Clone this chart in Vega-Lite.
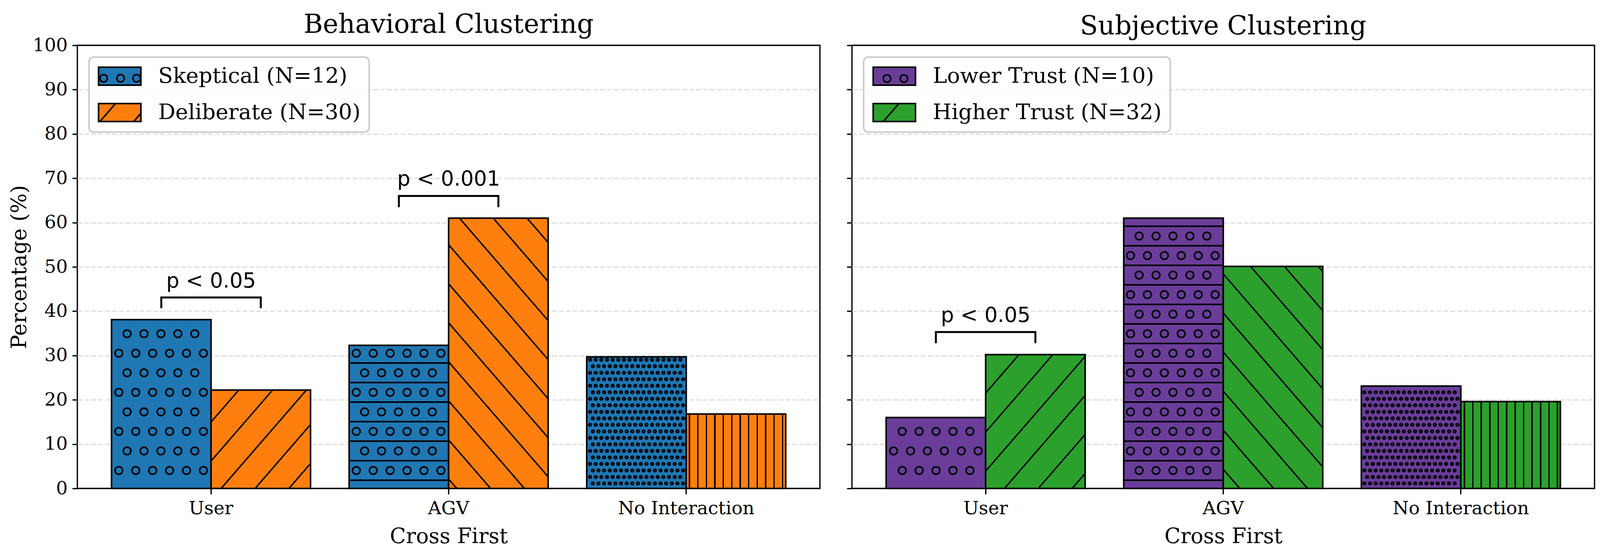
{
  "$schema": "https://vega.github.io/schema/vega-lite/v6.json",
  "background": "white",
  "padding": {"left": 21, "top": 28, "right": 10, "bottom": 20},
  "spacing": 63,
  "config": {
    "font": "DejaVu Serif",
    "view": {"stroke": "black", "strokeWidth": 3.3},
    "axis": {
      "labelFont": "DejaVu Serif", "labelFontSize": 47, "labelColor": "black", "labelLimit": 1000,
      "titleFont": "DejaVu Serif", "titleFontSize": 54, "titleFontWeight": "normal", "titleColor": "black",
      "tickColor": "black", "tickWidth": 3.3, "domain": false
    },
    "axisX": {"labelAngle": 0, "grid": false, "tickSize": 14.6, "labelPadding": 14, "titlePadding": 22},
    "axisY": {"grid": true, "gridDash": [12.3, 5.3], "gridColor": "#e0e0e0", "gridWidth": 3.3,
      "gridOpacity": {"condition": {"test": "datum.value === 0 || datum.value === 100", "value": 0}, "value": 1},
      "tickSize": 13, "labelPadding": 12, "titlePadding": 6},
    "title": {"font": "DejaVu Serif", "fontSize": 67, "fontWeight": "normal", "color": "black", "anchor": "middle", "frame": "group", "baseline": "alphabetic"},
    "legend": {
      "orient": "top-left", "offset": 30, "padding": 22,
      "labelFont": "DejaVu Serif", "labelFontSize": 55, "labelColor": "black", "labelLimit": 2000, "labelOffset": 42,
      "symbolType": "M-1,-0.4247H1V0.4247H-1Z", "symbolSize": 11729, "symbolStrokeColor": "black", "symbolStrokeWidth": 4,
      "clipHeight": 54, "rowPadding": 38,
      "fillColor": "rgba(255,255,255,0.8)", "strokeColor": "#cccccc", "strokeWidth": 4, "cornerRadius": 12
    }
  },
  "resolve": {"scale": {"x": "independent", "xOffset": "independent", "y": "independent", "fill": "independent"}, "legend": {"fill": "independent"}},
  "hconcat": [
    {
      "width": 1901,
      "height": 1134,
      "title": {"text": "Behavioral Clustering", "offset": -6},
      "data": {"values": [
        {"cat": "User", "grp": "Skeptical (N=12)", "pct": 38.1},
        {"cat": "User", "grp": "Deliberate (N=30)", "pct": 22.2},
        {"cat": "AGV", "grp": "Skeptical (N=12)", "pct": 32.3},
        {"cat": "AGV", "grp": "Deliberate (N=30)", "pct": 61.0},
        {"cat": "No Interaction", "grp": "Skeptical (N=12)", "pct": 29.7},
        {"cat": "No Interaction", "grp": "Deliberate (N=30)", "pct": 16.8}
      ]},
      "layer": [
        {
          "mark": {"type": "bar", "stroke": "black", "strokeWidth": 4, "strokeJoin": "miter"},
          "encoding": {
            "x": {"field": "cat", "type": "nominal", "sort": ["User", "AGV", "No Interaction"], "title": "Cross First",
              "scale": {"paddingInner": 0.1624, "paddingOuter": 0.1439}},
            "xOffset": {"field": "grp", "type": "nominal", "sort": ["Skeptical (N=12)", "Deliberate (N=30)"], "scale": {"paddingInner": 0, "paddingOuter": 0}},
            "y": {"field": "pct", "type": "quantitative", "title": "Percentage (%)",
              "scale": {"domain": [0, 100], "nice": false},
              "axis": {"values": [0, 10, 20, 30, 40, 50, 60, 70, 80, 90, 100]}},
            "fill": {
              "field": "grp", "type": "nominal",
              "scale": {"domain": ["Skeptical (N=12)", "Deliberate (N=30)"], "range": ["#1f77b4", "#ff7f0e"]},
              "legend": {"title": null, "encode": {"symbols": {"update": {
                "shape": [{"test": "datum.value === 'Skeptical (N=12)'", "value": "M-1,-0.4247H1V0.4247H-1ZM-0.5856,0.0979A0.1754,0.1754 0 1,1 -0.9364,0.0979A0.1754,0.1754 0 1,1 -0.5856,0.0979ZM0.2142,0.0979A0.1754,0.1754 0 1,1 -0.1366,0.0979A0.1754,0.1754 0 1,1 0.2142,0.0979ZM0.9754,0.0979A0.1754,0.1754 0 1,1 0.6246,0.0979A0.1754,0.1754 0 1,1 0.9754,0.0979Z"},
                          {"value": "M-1,-0.4247H1V0.4247H-1ZM-0.936,0.4247L-0.2,-0.4247M0.664,0.4247L1,0.0369"}],
                "stroke": {"value": "black"}, "strokeWidth": {"value": 4}}}}},
              "condition": [
                {"test": "datum.cat === 'User' && datum.grp === 'Deliberate (N=30)'", "value": {"gradient": "linear", "x1": 0, "y1": 0, "x2": 1.0706, "y2": 0.9176, "stops": [
                  {"offset": 0, "color": "#ff7f0e"},
                  {"offset": 0.1448, "color": "#ff7f0e"}, {"offset": 0.1448, "color": "#000"}, {"offset": 0.1552, "color": "#000"}, {"offset": 0.1552, "color": "#ff7f0e"},
                  {"offset": 0.3278, "color": "#ff7f0e"}, {"offset": 0.3278, "color": "#000"}, {"offset": 0.3382, "color": "#000"}, {"offset": 0.3382, "color": "#ff7f0e"},
                  {"offset": 0.5108, "color": "#ff7f0e"}, {"offset": 0.5108, "color": "#000"}, {"offset": 0.5212, "color": "#000"}, {"offset": 0.5212, "color": "#ff7f0e"},
                  {"offset": 0.6948, "color": "#ff7f0e"}, {"offset": 0.6948, "color": "#000"}, {"offset": 0.7052, "color": "#000"}, {"offset": 0.7052, "color": "#ff7f0e"},
                  {"offset": 0.8778, "color": "#ff7f0e"}, {"offset": 0.8778, "color": "#000"}, {"offset": 0.8882, "color": "#000"}, {"offset": 0.8882, "color": "#ff7f0e"},
                  {"offset": 1, "color": "#ff7f0e"}]}},
                {"test": "datum.cat === 'AGV' && datum.grp === 'Deliberate (N=30)'", "value": {"gradient": "linear", "x1": 0, "y1": 1, "x2": 0.5128, "y2": -0.2066, "stops": [
                  {"offset": 0, "color": "#ff7f0e"},
                  {"offset": 0.0214, "color": "#ff7f0e"}, {"offset": 0.0214, "color": "#000"}, {"offset": 0.0272, "color": "#000"}, {"offset": 0.0272, "color": "#ff7f0e"},
                  {"offset": 0.1229, "color": "#ff7f0e"}, {"offset": 0.1229, "color": "#000"}, {"offset": 0.1287, "color": "#000"}, {"offset": 0.1287, "color": "#ff7f0e"},
                  {"offset": 0.2243, "color": "#ff7f0e"}, {"offset": 0.2243, "color": "#000"}, {"offset": 0.2301, "color": "#000"}, {"offset": 0.2301, "color": "#ff7f0e"},
                  {"offset": 0.3257, "color": "#ff7f0e"}, {"offset": 0.3257, "color": "#000"}, {"offset": 0.3315, "color": "#000"}, {"offset": 0.3315, "color": "#ff7f0e"},
                  {"offset": 0.4271, "color": "#ff7f0e"}, {"offset": 0.4271, "color": "#000"}, {"offset": 0.4329, "color": "#000"}, {"offset": 0.4329, "color": "#ff7f0e"},
                  {"offset": 0.5285, "color": "#ff7f0e"}, {"offset": 0.5285, "color": "#000"}, {"offset": 0.5343, "color": "#000"}, {"offset": 0.5343, "color": "#ff7f0e"},
                  {"offset": 0.6300, "color": "#ff7f0e"}, {"offset": 0.6300, "color": "#000"}, {"offset": 0.6358, "color": "#000"}, {"offset": 0.6358, "color": "#ff7f0e"},
                  {"offset": 0.7314, "color": "#ff7f0e"}, {"offset": 0.7314, "color": "#000"}, {"offset": 0.7372, "color": "#000"}, {"offset": 0.7372, "color": "#ff7f0e"},
                  {"offset": 0.8328, "color": "#ff7f0e"}, {"offset": 0.8328, "color": "#000"}, {"offset": 0.8386, "color": "#000"}, {"offset": 0.8386, "color": "#ff7f0e"},
                  {"offset": 0.9342, "color": "#ff7f0e"}, {"offset": 0.9342, "color": "#000"}, {"offset": 0.9400, "color": "#000"}, {"offset": 0.9400, "color": "#ff7f0e"},
                  {"offset": 1, "color": "#ff7f0e"}]}},
                {"test": "datum.cat === 'No Interaction' && datum.grp === 'Deliberate (N=30)'", "value": {"gradient": "linear", "x1": 0, "y1": 0, "x2": 1, "y2": 0, "stops": [
                  {"offset": 0, "color": "#ff7f0e"},
                  {"offset": 0.0255, "color": "#ff7f0e"}, {"offset": 0.0255, "color": "#000"}, {"offset": 0.0391, "color": "#000"}, {"offset": 0.0391, "color": "#ff7f0e"},
                  {"offset": 0.1105, "color": "#ff7f0e"}, {"offset": 0.1105, "color": "#000"}, {"offset": 0.1241, "color": "#000"}, {"offset": 0.1241, "color": "#ff7f0e"},
                  {"offset": 0.1956, "color": "#ff7f0e"}, {"offset": 0.1956, "color": "#000"}, {"offset": 0.2092, "color": "#000"}, {"offset": 0.2092, "color": "#ff7f0e"},
                  {"offset": 0.2806, "color": "#ff7f0e"}, {"offset": 0.2806, "color": "#000"}, {"offset": 0.2942, "color": "#000"}, {"offset": 0.2942, "color": "#ff7f0e"},
                  {"offset": 0.3656, "color": "#ff7f0e"}, {"offset": 0.3656, "color": "#000"}, {"offset": 0.3792, "color": "#000"}, {"offset": 0.3792, "color": "#ff7f0e"},
                  {"offset": 0.4507, "color": "#ff7f0e"}, {"offset": 0.4507, "color": "#000"}, {"offset": 0.4643, "color": "#000"}, {"offset": 0.4643, "color": "#ff7f0e"},
                  {"offset": 0.5357, "color": "#ff7f0e"}, {"offset": 0.5357, "color": "#000"}, {"offset": 0.5493, "color": "#000"}, {"offset": 0.5493, "color": "#ff7f0e"},
                  {"offset": 0.6208, "color": "#ff7f0e"}, {"offset": 0.6208, "color": "#000"}, {"offset": 0.6344, "color": "#000"}, {"offset": 0.6344, "color": "#ff7f0e"},
                  {"offset": 0.7058, "color": "#ff7f0e"}, {"offset": 0.7058, "color": "#000"}, {"offset": 0.7194, "color": "#000"}, {"offset": 0.7194, "color": "#ff7f0e"},
                  {"offset": 0.7908, "color": "#ff7f0e"}, {"offset": 0.7908, "color": "#000"}, {"offset": 0.8044, "color": "#000"}, {"offset": 0.8044, "color": "#ff7f0e"},
                  {"offset": 0.8759, "color": "#ff7f0e"}, {"offset": 0.8759, "color": "#000"}, {"offset": 0.8895, "color": "#000"}, {"offset": 0.8895, "color": "#ff7f0e"},
                  {"offset": 0.9609, "color": "#ff7f0e"}, {"offset": 0.9609, "color": "#000"}, {"offset": 0.9745, "color": "#000"}, {"offset": 0.9745, "color": "#ff7f0e"},
                  {"offset": 1, "color": "#ff7f0e"}]}},
                {"test": "datum.cat === 'AGV' && datum.grp === 'Skeptical (N=12)'", "value": {"gradient": "linear", "x1": 0, "y1": 0, "x2": 0, "y2": 1, "stops": [
                  {"offset": 0, "color": "#1f77b4"},
                  {"offset": 0.1182, "color": "#1f77b4"}, {"offset": 0.1182, "color": "#000"}, {"offset": 0.1292, "color": "#000"}, {"offset": 0.1292, "color": "#1f77b4"},
                  {"offset": 0.2547, "color": "#1f77b4"}, {"offset": 0.2547, "color": "#000"}, {"offset": 0.2657, "color": "#000"}, {"offset": 0.2657, "color": "#1f77b4"},
                  {"offset": 0.3912, "color": "#1f77b4"}, {"offset": 0.3912, "color": "#000"}, {"offset": 0.4022, "color": "#000"}, {"offset": 0.4022, "color": "#1f77b4"},
                  {"offset": 0.5277, "color": "#1f77b4"}, {"offset": 0.5277, "color": "#000"}, {"offset": 0.5387, "color": "#000"}, {"offset": 0.5387, "color": "#1f77b4"},
                  {"offset": 0.6642, "color": "#1f77b4"}, {"offset": 0.6642, "color": "#000"}, {"offset": 0.6752, "color": "#000"}, {"offset": 0.6752, "color": "#1f77b4"},
                  {"offset": 0.8007, "color": "#1f77b4"}, {"offset": 0.8007, "color": "#000"}, {"offset": 0.8117, "color": "#000"}, {"offset": 0.8117, "color": "#1f77b4"},
                  {"offset": 0.9372, "color": "#1f77b4"}, {"offset": 0.9372, "color": "#000"}, {"offset": 0.9482, "color": "#000"}, {"offset": 0.9482, "color": "#1f77b4"},
                  {"offset": 1, "color": "#1f77b4"}]}}
              ]
            }
          }
        },
        {
          "transform": [{"filter": "datum.grp === 'Skeptical (N=12)' && datum.cat !== 'No Interaction'"}],
          "mark": {"type": "point", "size": 4, "filled": false, "stroke": "black", "strokeWidth": 23, "strokeCap": "round", "strokeDash": [0.5, 42.83], "opacity": 1},
          "encoding": {
            "x": {"field": "cat", "type": "nominal", "sort": ["User", "AGV", "No Interaction"], "title": "Cross First"},
            "xOffset": {"field": "grp", "type": "nominal", "sort": ["Skeptical (N=12)", "Deliberate (N=30)"]},
            "y": {"datum": 0, "type": "quantitative", "title": "Percentage (%)"},
            "shape": {"condition": {"test": "datum.cat === 'User'", "value": "M-87.8,-396h174.3M-109,-346h217.7M-87.8,-296h174.3M-109,-246h217.7M-87.8,-196h174.3M-109,-146h217.7M-87.8,-96h174.3M-109,-46h217.7"},
                      "value": "M-109.3,-346h217.7M-88,-296h174.3M-109.3,-246h217.7M-88,-196h174.3M-109.3,-146h217.7M-88,-96h174.3M-109.3,-46h217.7"}
          }
        },
        {
          "transform": [{"filter": "datum.grp === 'Skeptical (N=12)' && datum.cat !== 'No Interaction'"}],
          "mark": {"type": "point", "size": 4, "filled": false, "stroke": "#1f77b4", "strokeWidth": 15, "strokeCap": "round", "strokeDash": [0.5, 42.83], "opacity": 1},
          "encoding": {
            "x": {"field": "cat", "type": "nominal", "sort": ["User", "AGV", "No Interaction"], "title": "Cross First"},
            "xOffset": {"field": "grp", "type": "nominal", "sort": ["Skeptical (N=12)", "Deliberate (N=30)"]},
            "y": {"datum": 0, "type": "quantitative", "title": "Percentage (%)"},
            "shape": {"condition": {"test": "datum.cat === 'User'", "value": "M-87.8,-396h174.3M-109,-346h217.7M-87.8,-296h174.3M-109,-246h217.7M-87.8,-196h174.3M-109,-146h217.7M-87.8,-96h174.3M-109,-46h217.7"},
                      "value": "M-109.3,-346h217.7M-88,-296h174.3M-109.3,-246h217.7M-88,-196h174.3M-109.3,-146h217.7M-88,-96h174.3M-109.3,-46h217.7"}
          }
        },
        {
          "transform": [{"filter": "datum.grp === 'Skeptical (N=12)' && datum.cat === 'No Interaction'"}],
          "mark": {"type": "point", "size": 4, "filled": false, "stroke": "black", "strokeWidth": 10, "strokeCap": "round", "strokeDash": [0.5, 13.94], "opacity": 1},
          "encoding": {
            "x": {"field": "cat", "type": "nominal", "sort": ["User", "AGV", "No Interaction"], "title": "Cross First"},
            "xOffset": {"field": "grp", "type": "nominal", "sort": ["Skeptical (N=12)", "Deliberate (N=30)"]},
            "y": {"datum": 0, "type": "quantitative", "title": "Percentage (%)"},
            "shape": {"value": "M-119.1,-329.3h231.6M-112,-312.7h231.6M-119.1,-296h231.6M-112,-279.3h231.6M-119.1,-262.7h231.6M-112,-246h231.6M-119.1,-229.3h231.6M-112,-212.7h231.6M-119.1,-196h231.6M-112,-179.3h231.6M-119.1,-162.7h231.6M-112,-146h231.6M-119.1,-129.3h231.6M-112,-112.7h231.6M-119.1,-96h231.6M-112,-79.3h231.6M-119.1,-62.7h231.6M-112,-46h231.6M-119.1,-29.3h231.6M-112,-12.7h231.6"}
          }
        },
        {
          "transform": [{"filter": "datum.grp === 'Skeptical (N=12)' && datum.cat === 'No Interaction'"}],
          "mark": {"type": "point", "size": 4, "filled": false, "stroke": "#1f77b4", "strokeWidth": 2, "strokeCap": "round", "strokeDash": [0.5, 13.94], "opacity": 1},
          "encoding": {
            "x": {"field": "cat", "type": "nominal", "sort": ["User", "AGV", "No Interaction"], "title": "Cross First"},
            "xOffset": {"field": "grp", "type": "nominal", "sort": ["Skeptical (N=12)", "Deliberate (N=30)"]},
            "y": {"datum": 0, "type": "quantitative", "title": "Percentage (%)"},
            "shape": {"value": "M-119.1,-329.3h231.6M-112,-312.7h231.6M-119.1,-296h231.6M-112,-279.3h231.6M-119.1,-262.7h231.6M-112,-246h231.6M-119.1,-229.3h231.6M-112,-212.7h231.6M-119.1,-196h231.6M-112,-179.3h231.6M-119.1,-162.7h231.6M-112,-146h231.6M-119.1,-129.3h231.6M-112,-112.7h231.6M-119.1,-96h231.6M-112,-79.3h231.6M-119.1,-62.7h231.6M-112,-46h231.6M-119.1,-29.3h231.6M-112,-12.7h231.6"}
          }
        },
        {
          "data": {"values": [
            {"id": "u", "ord": 1, "cat": "User", "grp": "Skeptical (N=12)", "pct": 40.9},
            {"id": "u", "ord": 2, "cat": "User", "grp": "Skeptical (N=12)", "pct": 43.1},
            {"id": "u", "ord": 3, "cat": "User", "grp": "Deliberate (N=30)", "pct": 43.1},
            {"id": "u", "ord": 4, "cat": "User", "grp": "Deliberate (N=30)", "pct": 40.9},
            {"id": "a", "ord": 1, "cat": "AGV", "grp": "Skeptical (N=12)", "pct": 63.7},
            {"id": "a", "ord": 2, "cat": "AGV", "grp": "Skeptical (N=12)", "pct": 66.0},
            {"id": "a", "ord": 3, "cat": "AGV", "grp": "Deliberate (N=30)", "pct": 66.0},
            {"id": "a", "ord": 4, "cat": "AGV", "grp": "Deliberate (N=30)", "pct": 63.7}
          ]},
          "mark": {"type": "line", "color": "black", "strokeWidth": 5, "strokeCap": "square", "strokeJoin": "miter"},
          "encoding": {
            "x": {"field": "cat", "type": "nominal", "sort": ["User", "AGV", "No Interaction"], "title": "Cross First"},
            "xOffset": {"field": "grp", "type": "nominal", "sort": ["Skeptical (N=12)", "Deliberate (N=30)"]},
            "y": {"field": "pct", "type": "quantitative", "title": "Percentage (%)"},
            "detail": {"field": "id"},
            "order": {"field": "ord"}
          }
        },
        {
          "data": {"values": [
            {"cat": "User", "pct": 45.3, "label": "p < 0.05"},
            {"cat": "AGV", "pct": 68.3, "label": "p < 0.001"}
          ]},
          "mark": {"type": "text", "font": "DejaVu Sans", "fontSize": 53, "baseline": "alphabetic", "align": "center", "color": "black"},
          "encoding": {
            "x": {"field": "cat", "type": "nominal", "sort": ["User", "AGV", "No Interaction"], "title": "Cross First"},
            "y": {"field": "pct", "type": "quantitative", "title": "Percentage (%)"},
            "text": {"field": "label"}
          }
        }
      ]
    },
    {
      "width": 1901,
      "height": 1134,
      "title": {"text": "Subjective Clustering", "offset": 12},
      "data": {"values": [
        {"cat": "User", "grp": "Lower Trust (N=10)", "pct": 16.0},
        {"cat": "User", "grp": "Higher Trust (N=32)", "pct": 30.2},
        {"cat": "AGV", "grp": "Lower Trust (N=10)", "pct": 61.0},
        {"cat": "AGV", "grp": "Higher Trust (N=32)", "pct": 50.1},
        {"cat": "No Interaction", "grp": "Lower Trust (N=10)", "pct": 23.1},
        {"cat": "No Interaction", "grp": "Higher Trust (N=32)", "pct": 19.6}
      ]},
      "layer": [
        {
          "mark": {"type": "bar", "stroke": "black", "strokeWidth": 4, "strokeJoin": "miter"},
          "encoding": {
            "x": {"field": "cat", "type": "nominal", "sort": ["User", "AGV", "No Interaction"], "title": "Cross First",
              "scale": {"paddingInner": 0.1624, "paddingOuter": 0.1439}},
            "xOffset": {"field": "grp", "type": "nominal", "sort": ["Lower Trust (N=10)", "Higher Trust (N=32)"], "scale": {"paddingInner": 0, "paddingOuter": 0}},
            "y": {"field": "pct", "type": "quantitative", "title": null,
              "scale": {"domain": [0, 100], "nice": false},
              "axis": {"values": [0, 10, 20, 30, 40, 50, 60, 70, 80, 90, 100], "labels": false}},
            "fill": {
              "field": "grp", "type": "nominal",
              "scale": {"domain": ["Lower Trust (N=10)", "Higher Trust (N=32)"], "range": ["#6a3d9a", "#2ca02c"]},
              "legend": {"title": null, "encode": {"symbols": {"update": {
                "shape": [{"test": "datum.value === 'Lower Trust (N=10)'", "value": "M-1,-0.4247H1V0.4247H-1ZM-0.1734,0.1108A0.1754,0.1754 0 1,1 -0.5242,0.1108A0.1754,0.1754 0 1,1 -0.1734,0.1108ZM0.6266,0.1108A0.1754,0.1754 0 1,1 0.2758,0.1108A0.1754,0.1754 0 1,1 0.6266,0.1108Z"},
                          {"value": "M-1,-0.4247H1V0.4247H-1ZM-0.5216,0.4247L0.2144,-0.4247"}],
                "stroke": {"value": "black"}, "strokeWidth": {"value": 4}}}}},
              "condition": [
                {"test": "datum.cat === 'User' && datum.grp === 'Higher Trust (N=32)'", "value": {"gradient": "linear", "x1": 0, "y1": 0, "x2": 0.9177, "y2": 1.0706, "stops": [
                  {"offset": 0, "color": "#2ca02c"},
                  {"offset": 0.1502, "color": "#2ca02c"}, {"offset": 0.1502, "color": "#000"}, {"offset": 0.1590, "color": "#000"}, {"offset": 0.1590, "color": "#2ca02c"},
                  {"offset": 0.3072, "color": "#2ca02c"}, {"offset": 0.3072, "color": "#000"}, {"offset": 0.3160, "color": "#000"}, {"offset": 0.3160, "color": "#2ca02c"},
                  {"offset": 0.4642, "color": "#2ca02c"}, {"offset": 0.4642, "color": "#000"}, {"offset": 0.4730, "color": "#000"}, {"offset": 0.4730, "color": "#2ca02c"},
                  {"offset": 0.6212, "color": "#2ca02c"}, {"offset": 0.6212, "color": "#000"}, {"offset": 0.6300, "color": "#000"}, {"offset": 0.6300, "color": "#2ca02c"},
                  {"offset": 0.7782, "color": "#2ca02c"}, {"offset": 0.7782, "color": "#000"}, {"offset": 0.7870, "color": "#000"}, {"offset": 0.7870, "color": "#2ca02c"},
                  {"offset": 0.9352, "color": "#2ca02c"}, {"offset": 0.9352, "color": "#000"}, {"offset": 0.9440, "color": "#000"}, {"offset": 0.9440, "color": "#2ca02c"},
                  {"offset": 1, "color": "#2ca02c"}]}},
                {"test": "datum.cat === 'AGV' && datum.grp === 'Higher Trust (N=32)'", "value": {"gradient": "linear", "x1": 0, "y1": 1, "x2": 0.6194, "y2": -0.1969, "stops": [
                  {"offset": 0, "color": "#2ca02c"},
                  {"offset": 0.0535, "color": "#2ca02c"}, {"offset": 0.0535, "color": "#000"}, {"offset": 0.0601, "color": "#000"}, {"offset": 0.0601, "color": "#2ca02c"},
                  {"offset": 0.1695, "color": "#2ca02c"}, {"offset": 0.1695, "color": "#000"}, {"offset": 0.1761, "color": "#000"}, {"offset": 0.1761, "color": "#2ca02c"},
                  {"offset": 0.2855, "color": "#2ca02c"}, {"offset": 0.2855, "color": "#000"}, {"offset": 0.2921, "color": "#000"}, {"offset": 0.2921, "color": "#2ca02c"},
                  {"offset": 0.4015, "color": "#2ca02c"}, {"offset": 0.4015, "color": "#000"}, {"offset": 0.4081, "color": "#000"}, {"offset": 0.4081, "color": "#2ca02c"},
                  {"offset": 0.5175, "color": "#2ca02c"}, {"offset": 0.5175, "color": "#000"}, {"offset": 0.5241, "color": "#000"}, {"offset": 0.5241, "color": "#2ca02c"},
                  {"offset": 0.6335, "color": "#2ca02c"}, {"offset": 0.6335, "color": "#000"}, {"offset": 0.6401, "color": "#000"}, {"offset": 0.6401, "color": "#2ca02c"},
                  {"offset": 0.7495, "color": "#2ca02c"}, {"offset": 0.7495, "color": "#000"}, {"offset": 0.7561, "color": "#000"}, {"offset": 0.7561, "color": "#2ca02c"},
                  {"offset": 0.8655, "color": "#2ca02c"}, {"offset": 0.8655, "color": "#000"}, {"offset": 0.8721, "color": "#000"}, {"offset": 0.8721, "color": "#2ca02c"},
                  {"offset": 0.9815, "color": "#2ca02c"}, {"offset": 0.9815, "color": "#000"}, {"offset": 0.9881, "color": "#000"}, {"offset": 0.9881, "color": "#2ca02c"},
                  {"offset": 1, "color": "#2ca02c"}]}},
                {"test": "datum.cat === 'No Interaction' && datum.grp === 'Higher Trust (N=32)'", "value": {"gradient": "linear", "x1": 0, "y1": 0, "x2": 1, "y2": 0, "stops": [
                  {"offset": 0, "color": "#2ca02c"},
                  {"offset": 0.0289, "color": "#2ca02c"}, {"offset": 0.0289, "color": "#000"}, {"offset": 0.0425, "color": "#000"}, {"offset": 0.0425, "color": "#2ca02c"},
                  {"offset": 0.1139, "color": "#2ca02c"}, {"offset": 0.1139, "color": "#000"}, {"offset": 0.1275, "color": "#000"}, {"offset": 0.1275, "color": "#2ca02c"},
                  {"offset": 0.1990, "color": "#2ca02c"}, {"offset": 0.1990, "color": "#000"}, {"offset": 0.2126, "color": "#000"}, {"offset": 0.2126, "color": "#2ca02c"},
                  {"offset": 0.2840, "color": "#2ca02c"}, {"offset": 0.2840, "color": "#000"}, {"offset": 0.2976, "color": "#000"}, {"offset": 0.2976, "color": "#2ca02c"},
                  {"offset": 0.3690, "color": "#2ca02c"}, {"offset": 0.3690, "color": "#000"}, {"offset": 0.3826, "color": "#000"}, {"offset": 0.3826, "color": "#2ca02c"},
                  {"offset": 0.4541, "color": "#2ca02c"}, {"offset": 0.4541, "color": "#000"}, {"offset": 0.4677, "color": "#000"}, {"offset": 0.4677, "color": "#2ca02c"},
                  {"offset": 0.5391, "color": "#2ca02c"}, {"offset": 0.5391, "color": "#000"}, {"offset": 0.5527, "color": "#000"}, {"offset": 0.5527, "color": "#2ca02c"},
                  {"offset": 0.6242, "color": "#2ca02c"}, {"offset": 0.6242, "color": "#000"}, {"offset": 0.6378, "color": "#000"}, {"offset": 0.6378, "color": "#2ca02c"},
                  {"offset": 0.7092, "color": "#2ca02c"}, {"offset": 0.7092, "color": "#000"}, {"offset": 0.7228, "color": "#000"}, {"offset": 0.7228, "color": "#2ca02c"},
                  {"offset": 0.7942, "color": "#2ca02c"}, {"offset": 0.7942, "color": "#000"}, {"offset": 0.8078, "color": "#000"}, {"offset": 0.8078, "color": "#2ca02c"},
                  {"offset": 0.8793, "color": "#2ca02c"}, {"offset": 0.8793, "color": "#000"}, {"offset": 0.8929, "color": "#000"}, {"offset": 0.8929, "color": "#2ca02c"},
                  {"offset": 0.9643, "color": "#2ca02c"}, {"offset": 0.9643, "color": "#000"}, {"offset": 0.9779, "color": "#000"}, {"offset": 0.9779, "color": "#2ca02c"},
                  {"offset": 1, "color": "#2ca02c"}]}},
                {"test": "datum.cat === 'AGV' && datum.grp === 'Lower Trust (N=10)'", "value": {"gradient": "linear", "x1": 0, "y1": 0, "x2": 0, "y2": 1, "stops": [
                  {"offset": 0, "color": "#6a3d9a"},
                  {"offset": 0.0270, "color": "#6a3d9a"}, {"offset": 0.0270, "color": "#000"}, {"offset": 0.0328, "color": "#000"}, {"offset": 0.0328, "color": "#6a3d9a"},
                  {"offset": 0.0993, "color": "#6a3d9a"}, {"offset": 0.0993, "color": "#000"}, {"offset": 0.1051, "color": "#000"}, {"offset": 0.1051, "color": "#6a3d9a"},
                  {"offset": 0.1716, "color": "#6a3d9a"}, {"offset": 0.1716, "color": "#000"}, {"offset": 0.1774, "color": "#000"}, {"offset": 0.1774, "color": "#6a3d9a"},
                  {"offset": 0.2439, "color": "#6a3d9a"}, {"offset": 0.2439, "color": "#000"}, {"offset": 0.2497, "color": "#000"}, {"offset": 0.2497, "color": "#6a3d9a"},
                  {"offset": 0.3162, "color": "#6a3d9a"}, {"offset": 0.3162, "color": "#000"}, {"offset": 0.3220, "color": "#000"}, {"offset": 0.3220, "color": "#6a3d9a"},
                  {"offset": 0.3885, "color": "#6a3d9a"}, {"offset": 0.3885, "color": "#000"}, {"offset": 0.3943, "color": "#000"}, {"offset": 0.3943, "color": "#6a3d9a"},
                  {"offset": 0.4608, "color": "#6a3d9a"}, {"offset": 0.4608, "color": "#000"}, {"offset": 0.4666, "color": "#000"}, {"offset": 0.4666, "color": "#6a3d9a"},
                  {"offset": 0.5330, "color": "#6a3d9a"}, {"offset": 0.5330, "color": "#000"}, {"offset": 0.5388, "color": "#000"}, {"offset": 0.5388, "color": "#6a3d9a"},
                  {"offset": 0.6053, "color": "#6a3d9a"}, {"offset": 0.6053, "color": "#000"}, {"offset": 0.6111, "color": "#000"}, {"offset": 0.6111, "color": "#6a3d9a"},
                  {"offset": 0.6776, "color": "#6a3d9a"}, {"offset": 0.6776, "color": "#000"}, {"offset": 0.6834, "color": "#000"}, {"offset": 0.6834, "color": "#6a3d9a"},
                  {"offset": 0.7499, "color": "#6a3d9a"}, {"offset": 0.7499, "color": "#000"}, {"offset": 0.7557, "color": "#000"}, {"offset": 0.7557, "color": "#6a3d9a"},
                  {"offset": 0.8222, "color": "#6a3d9a"}, {"offset": 0.8222, "color": "#000"}, {"offset": 0.8280, "color": "#000"}, {"offset": 0.8280, "color": "#6a3d9a"},
                  {"offset": 0.8945, "color": "#6a3d9a"}, {"offset": 0.8945, "color": "#000"}, {"offset": 0.9003, "color": "#000"}, {"offset": 0.9003, "color": "#6a3d9a"},
                  {"offset": 0.9668, "color": "#6a3d9a"}, {"offset": 0.9668, "color": "#000"}, {"offset": 0.9726, "color": "#000"}, {"offset": 0.9726, "color": "#6a3d9a"},
                  {"offset": 1, "color": "#6a3d9a"}]}}
              ]
            }
          }
        },
        {
          "transform": [{"filter": "datum.grp === 'Lower Trust (N=10)' && datum.cat !== 'No Interaction'"}],
          "mark": {"type": "point", "size": 4, "filled": false, "stroke": "black", "strokeWidth": 23, "strokeCap": "round", "strokeDash": [0.5, 42.83], "opacity": 1},
          "encoding": {
            "x": {"field": "cat", "type": "nominal", "sort": ["User", "AGV", "No Interaction"], "title": "Cross First"},
            "xOffset": {"field": "grp", "type": "nominal", "sort": ["Lower Trust (N=10)", "Higher Trust (N=32)"]},
            "y": {"datum": 0, "type": "quantitative", "title": null},
            "shape": {"condition": {"test": "datum.cat === 'User'", "value": "M-86.5,-146h174.3M-108.6,-96h217.7M-86.5,-46h174.3"},
                      "value": "M-88.2,-646h174.3M-110.3,-596h217.7M-88.2,-546h174.3M-110.3,-496h217.7M-88.2,-446h174.3M-110.3,-396h217.7M-88.2,-346h174.3M-110.3,-296h217.7M-88.2,-246h174.3M-110.3,-196h217.7M-88.2,-146h174.3M-110.3,-96h217.7M-88.2,-46h174.3"}
          }
        },
        {
          "transform": [{"filter": "datum.grp === 'Lower Trust (N=10)' && datum.cat !== 'No Interaction'"}],
          "mark": {"type": "point", "size": 4, "filled": false, "stroke": "#6a3d9a", "strokeWidth": 15, "strokeCap": "round", "strokeDash": [0.5, 42.83], "opacity": 1},
          "encoding": {
            "x": {"field": "cat", "type": "nominal", "sort": ["User", "AGV", "No Interaction"], "title": "Cross First"},
            "xOffset": {"field": "grp", "type": "nominal", "sort": ["Lower Trust (N=10)", "Higher Trust (N=32)"]},
            "y": {"datum": 0, "type": "quantitative", "title": null},
            "shape": {"condition": {"test": "datum.cat === 'User'", "value": "M-86.5,-146h174.3M-108.6,-96h217.7M-86.5,-46h174.3"},
                      "value": "M-88.2,-646h174.3M-110.3,-596h217.7M-88.2,-546h174.3M-110.3,-496h217.7M-88.2,-446h174.3M-110.3,-396h217.7M-88.2,-346h174.3M-110.3,-296h217.7M-88.2,-246h174.3M-110.3,-196h217.7M-88.2,-146h174.3M-110.3,-96h217.7M-88.2,-46h174.3"}
          }
        },
        {
          "transform": [{"filter": "datum.grp === 'Lower Trust (N=10)' && datum.cat === 'No Interaction'"}],
          "mark": {"type": "point", "size": 4, "filled": false, "stroke": "black", "strokeWidth": 10, "strokeCap": "round", "strokeDash": [0.5, 13.94], "opacity": 1},
          "encoding": {
            "x": {"field": "cat", "type": "nominal", "sort": ["User", "AGV", "No Interaction"], "title": "Cross First"},
            "xOffset": {"field": "grp", "type": "nominal", "sort": ["Lower Trust (N=10)", "Higher Trust (N=32)"]},
            "y": {"datum": 0, "type": "quantitative", "title": null},
            "shape": {"value": "M-119.8,-246h231.6M-112.6,-229.3h231.6M-119.8,-212.7h231.6M-112.6,-196h231.6M-119.8,-179.3h231.6M-112.6,-162.7h231.6M-119.8,-146h231.6M-112.6,-129.3h231.6M-119.8,-112.7h231.6M-112.6,-96h231.6M-119.8,-79.3h231.6M-112.6,-62.7h231.6M-119.8,-46h231.6M-112.6,-29.3h231.6M-119.8,-12.7h231.6"}
          }
        },
        {
          "transform": [{"filter": "datum.grp === 'Lower Trust (N=10)' && datum.cat === 'No Interaction'"}],
          "mark": {"type": "point", "size": 4, "filled": false, "stroke": "#6a3d9a", "strokeWidth": 2, "strokeCap": "round", "strokeDash": [0.5, 13.94], "opacity": 1},
          "encoding": {
            "x": {"field": "cat", "type": "nominal", "sort": ["User", "AGV", "No Interaction"], "title": "Cross First"},
            "xOffset": {"field": "grp", "type": "nominal", "sort": ["Lower Trust (N=10)", "Higher Trust (N=32)"]},
            "y": {"datum": 0, "type": "quantitative", "title": null},
            "shape": {"value": "M-119.8,-246h231.6M-112.6,-229.3h231.6M-119.8,-212.7h231.6M-112.6,-196h231.6M-119.8,-179.3h231.6M-112.6,-162.7h231.6M-119.8,-146h231.6M-112.6,-129.3h231.6M-119.8,-112.7h231.6M-112.6,-96h231.6M-119.8,-79.3h231.6M-112.6,-62.7h231.6M-119.8,-46h231.6M-112.6,-29.3h231.6M-119.8,-12.7h231.6"}
          }
        },
        {
          "data": {"values": [
            {"id": "u", "ord": 1, "cat": "User", "grp": "Lower Trust (N=10)", "pct": 33.0},
            {"id": "u", "ord": 2, "cat": "User", "grp": "Lower Trust (N=10)", "pct": 35.3},
            {"id": "u", "ord": 3, "cat": "User", "grp": "Higher Trust (N=32)", "pct": 35.3},
            {"id": "u", "ord": 4, "cat": "User", "grp": "Higher Trust (N=32)", "pct": 33.0}
          ]},
          "mark": {"type": "line", "color": "black", "strokeWidth": 5, "strokeCap": "square", "strokeJoin": "miter"},
          "encoding": {
            "x": {"field": "cat", "type": "nominal", "sort": ["User", "AGV", "No Interaction"], "title": "Cross First"},
            "xOffset": {"field": "grp", "type": "nominal", "sort": ["Lower Trust (N=10)", "Higher Trust (N=32)"]},
            "y": {"field": "pct", "type": "quantitative", "title": null},
            "detail": {"field": "id"},
            "order": {"field": "ord"}
          }
        },
        {
          "data": {"values": [
            {"cat": "User", "pct": 37.6, "label": "p < 0.05"}
          ]},
          "mark": {"type": "text", "font": "DejaVu Sans", "fontSize": 53, "baseline": "alphabetic", "align": "center", "color": "black"},
          "encoding": {
            "x": {"field": "cat", "type": "nominal", "sort": ["User", "AGV", "No Interaction"], "title": "Cross First"},
            "y": {"field": "pct", "type": "quantitative", "title": null},
            "text": {"field": "label"}
          }
        }
      ]
    }
  ]
}
